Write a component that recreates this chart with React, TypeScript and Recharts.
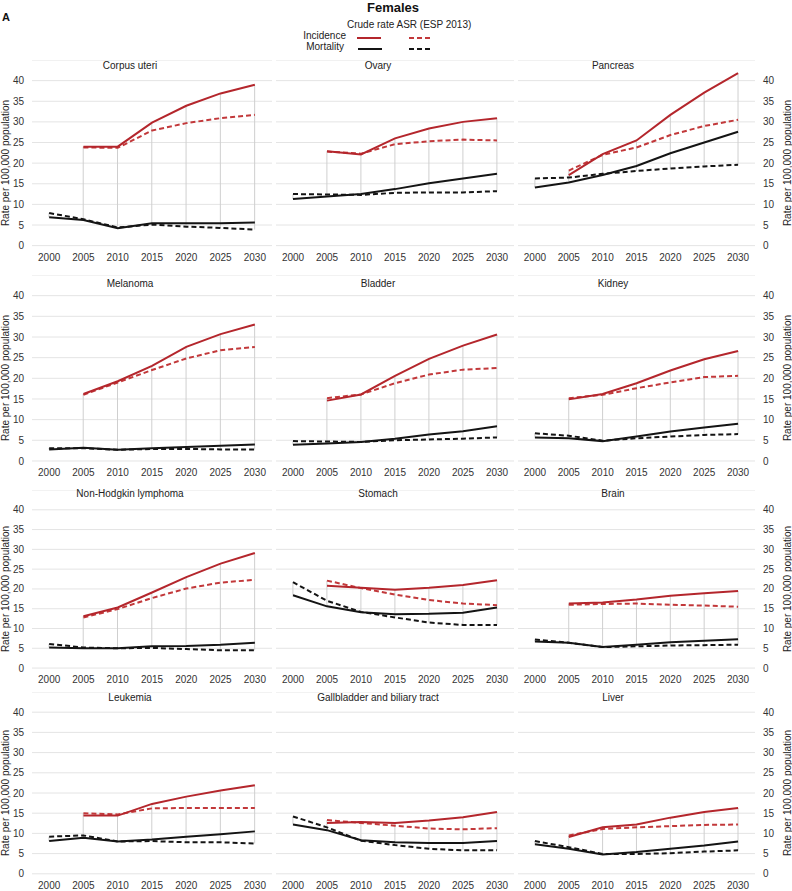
import { Bar, CartesianGrid, ComposedChart, Line, XAxis, YAxis } from 'recharts'

const YEARS = ['2000', '2005', '2010', '2015', '2020', '2025', '2030']
const Y_TICKS = [0, 5, 10, 15, 20, 25, 30, 35, 40]

const SITES = [
  'Corpus uteri',
  'Ovary',
  'Pancreas',
  'Melanoma',
  'Bladder',
  'Kidney',
  'Non-Hodgkin lymphoma',
  'Stomach',
  'Brain',
  'Leukemia',
  'Gallbladder and biliary tract',
  'Liver',
]

// one row per site, one value per year (2000 … 2030)
const INCIDENCE_CRUDE: (number | null)[][] = [
  [null, 24.0, 24.0, 29.8, 33.9, 36.9, 39.0],
  [null, 22.9, 22.1, 26.0, 28.4, 30.0, 30.9],
  [null, 17.1, 22.2, 25.5, 31.7, 37.1, 41.8],
  [null, 16.2, 19.3, 23.0, 27.6, 30.7, 33.0],
  [null, 14.6, 16.1, 20.6, 24.7, 27.9, 30.6],
  [null, 14.9, 16.2, 18.8, 21.9, 24.6, 26.6],
  [null, 13.1, 15.3, 19.1, 23.0, 26.4, 29.1],
  [null, 20.8, 20.3, 19.8, 20.3, 21.0, 22.2],
  [null, 16.3, 16.6, 17.3, 18.3, 18.9, 19.5],
  [null, 14.4, 14.4, 17.3, 19.1, 20.6, 21.9],
  [null, 12.6, 12.8, 12.6, 13.2, 14.0, 15.3],
  [null, 9.1, 11.5, 12.2, 13.9, 15.3, 16.3],
]

const INCIDENCE_ASR: (number | null)[][] = [
  [null, 23.8, 23.7, 27.9, 29.7, 30.9, 31.7],
  [null, 22.8, 22.3, 24.6, 25.3, 25.7, 25.5],
  [null, 18.2, 22.0, 23.8, 26.8, 29.0, 30.5],
  [null, 16.0, 19.0, 22.0, 24.8, 26.8, 27.6],
  [null, 15.2, 16.1, 18.8, 20.9, 22.1, 22.5],
  [null, 15.2, 16.0, 17.6, 19.0, 20.3, 20.6],
  [null, 12.8, 14.9, 17.7, 20.1, 21.6, 22.3],
  [null, 22.1, 20.2, 18.6, 17.2, 16.3, 15.9],
  [null, 16.0, 16.2, 16.3, 16.0, 15.8, 15.5],
  [null, 15.0, 14.7, 16.2, 16.3, 16.3, 16.3],
  [null, 13.3, 12.6, 11.9, 11.2, 11.0, 11.3],
  [null, 9.5, 11.1, 11.5, 11.8, 12.1, 12.2],
]

const MORTALITY_CRUDE: number[][] = [
  [6.9, 6.2, 4.2, 5.4, 5.4, 5.4, 5.6],
  [11.3, 11.9, 12.5, 13.7, 15.1, 16.3, 17.4],
  [14.1, 15.3, 17.1, 19.3, 22.4, 25.0, 27.6],
  [2.8, 3.2, 2.7, 3.1, 3.4, 3.7, 4.0],
  [3.9, 4.2, 4.6, 5.4, 6.4, 7.2, 8.4],
  [5.7, 5.5, 4.8, 5.9, 7.1, 8.1, 9.0],
  [5.2, 5.0, 5.0, 5.5, 5.6, 5.9, 6.4],
  [18.4, 15.6, 14.1, 13.6, 13.7, 14.0, 15.3],
  [6.7, 6.4, 5.3, 5.9, 6.5, 6.9, 7.3],
  [8.1, 8.9, 8.0, 8.5, 9.2, 9.8, 10.5],
  [12.2, 10.8, 8.3, 7.8, 7.6, 7.6, 8.1],
  [7.3, 6.2, 4.8, 5.4, 6.2, 7.0, 8.0],
]

const MORTALITY_ASR: number[][] = [
  [7.9, 6.4, 4.4, 5.1, 4.6, 4.3, 3.9],
  [12.5, 12.4, 12.3, 12.8, 12.9, 12.9, 13.2],
  [16.3, 16.5, 17.4, 18.1, 18.7, 19.2, 19.6],
  [3.1, 3.1, 2.7, 2.9, 2.9, 2.8, 2.8],
  [4.8, 4.7, 4.6, 5.0, 5.2, 5.4, 5.7],
  [6.7, 6.1, 4.9, 5.5, 5.9, 6.3, 6.5],
  [6.1, 5.2, 5.0, 5.1, 4.8, 4.5, 4.5],
  [21.7, 17.0, 14.2, 12.8, 11.5, 10.9, 10.9],
  [7.2, 6.4, 5.3, 5.5, 5.7, 5.8, 5.9],
  [9.2, 9.5, 8.0, 8.1, 7.8, 7.8, 7.5],
  [14.2, 11.5, 8.2, 7.1, 6.2, 5.8, 5.8],
  [8.1, 6.6, 4.9, 4.9, 5.1, 5.5, 5.8],
]

const RED = '#b4262c'
const RED_ASR = '#c2383a'
const BLACK = '#141414'
const DASH = '5 3'

// panel geometry: plot x-range per column, zero/forty line per row
const COLUMNS = [
  { left: 0, width: 272, titleX: 130 },
  { left: 276, width: 238, titleX: 378 },
  { left: 518, width: 274, titleX: 613 },
]
const ROWS = [
  { y40: 80.7, y0: 245.7, titleY: 65 },
  { y40: 295.7, y0: 461, titleY: 283 },
  { y40: 510, y0: 668.3, titleY: 493 },
  { y40: 711.7, y0: 873.3, titleY: 697 },
]

function HiLoLine(props: any) {
  const { x, y, width, height } = props
  if (x == null || y == null) return null
  const cx = x + width / 2
  const top = Math.min(y, y + height)
  const bottom = Math.max(y, y + height)
  return <line x1={cx} x2={cx} y1={top} y2={bottom} stroke="#cfcfcf" strokeWidth={1} />
}

function Panel({ index }: { index: number }) {
  const col = COLUMNS[index % 3]
  const row = ROWS[Math.floor(index / 3)]
  const plotHeight = ((row.y0 - row.y40) * 45) / 40
  const top = row.y0 - plotHeight

  const data = YEARS.map((year, i) => {
    const values = [
      INCIDENCE_CRUDE[index][i],
      INCIDENCE_ASR[index][i],
      MORTALITY_CRUDE[index][i],
      MORTALITY_ASR[index][i],
    ].filter((v): v is number => v !== null)
    return {
      year,
      incCrude: INCIDENCE_CRUDE[index][i],
      incAsr: INCIDENCE_ASR[index][i],
      mortCrude: MORTALITY_CRUDE[index][i],
      mortAsr: MORTALITY_ASR[index][i],
      range: [Math.min(...values), Math.max(...values)],
    }
  })

  const side = index % 3

  return (
    <div style={{ position: 'absolute', left: col.left, top, width: col.width, height: plotHeight + 20 }}>
      <ComposedChart width={col.width} height={plotHeight + 20} data={data} margin={{ top: 0, right: 0, bottom: 0, left: 0 }}>
        <CartesianGrid stroke="#e4e4e4" vertical={false} />
        <XAxis
          dataKey="year"
          axisLine={false}
          tickLine={false}
          height={20}
          interval={0}
          tick={{ fill: '#333', fontSize: 10 }}
        />
        <YAxis
          domain={[0, 45]}
          ticks={Y_TICKS}
          interval={0}
          hide={side === 1}
          orientation={side === 2 ? 'right' : 'left'}
          width={side === 0 ? 32 : side === 2 ? 37 : 0}
          axisLine={false}
          tickLine={false}
          tick={{ fill: '#333', fontSize: 10 }}
        />
        <Bar dataKey="range" isAnimationActive={false} shape={HiLoLine} />
        <Line dataKey="mortAsr" stroke={BLACK} strokeWidth={2} strokeDasharray={DASH} dot={false} isAnimationActive={false} />
        <Line dataKey="mortCrude" stroke={BLACK} strokeWidth={2} dot={false} isAnimationActive={false} />
        <Line dataKey="incAsr" stroke={RED_ASR} strokeWidth={2} strokeDasharray={DASH} dot={false} isAnimationActive={false} />
        <Line dataKey="incCrude" stroke={RED} strokeWidth={2} dot={false} isAnimationActive={false} />
      </ComposedChart>
    </div>
  )
}

function Header() {
  return (
    <svg width={792} height={56} style={{ position: 'absolute', left: 0, top: 0 }}>
      <text x={2} y={21} fontSize={11} fontWeight="bold" fill="#111">A</text>
      <text x={393} y={12} fontSize={13} fontWeight="bold" fill="#111" textAnchor="middle">Females</text>
      <text x={347} y={27.5} fontSize={10} fill="#222">Crude rate ASR (ESP 2013)</text>
      <text x={346} y={38.5} fontSize={10} fill="#222" textAnchor="end">Incidence</text>
      <text x={344} y={49.5} fontSize={10} fill="#222" textAnchor="end">Mortality</text>
      <line x1={357} x2={381} y1={38} y2={38} stroke={RED} strokeWidth={2} />
      <line x1={409} x2={433} y1={38} y2={38} stroke={RED_ASR} strokeWidth={2} strokeDasharray={DASH} />
      <line x1={358} x2={382} y1={49} y2={49} stroke={BLACK} strokeWidth={2} />
      <line x1={409} x2={433} y1={49} y2={49} stroke={BLACK} strokeWidth={2} strokeDasharray={DASH} />
    </svg>
  )
}

const AXIS_TITLE = 'Rate per 100,000 population'

export default function App() {
  return (
    <div
      style={{
        position: 'absolute',
        left: 0,
        top: 0,
        width: 792,
        height: 891,
        background: '#fff',
        fontFamily: '"Liberation Sans", Arial, sans-serif',
        overflow: 'hidden',
      }}
    >
      <Header />
      {SITES.map((site, i) => (
        <Panel key={site} index={i} />
      ))}
      {SITES.map((site, i) => {
        const col = COLUMNS[i % 3]
        const row = ROWS[Math.floor(i / 3)]
        return (
          <div
            key={`t-${site}`}
            style={{
              position: 'absolute',
              left: col.titleX,
              top: row.titleY,
              transform: 'translate(-50%, -50%)',
              fontSize: 10,
              color: '#222',
              whiteSpace: 'nowrap',
            }}
          >
            {site}
          </div>
        )
      })}
      {ROWS.map((row, r) =>
        [5, 787].map((x) => (
          <div
            key={`a-${r}-${x}`}
            style={{
              position: 'absolute',
              left: x,
              top: (row.y0 + row.y40) / 2,
              transform: 'translate(-50%, -50%) rotate(-90deg)',
              fontSize: 10,
              color: '#222',
              whiteSpace: 'nowrap',
            }}
          >
            {AXIS_TITLE}
          </div>
        )),
      )}
    </div>
  )
}
